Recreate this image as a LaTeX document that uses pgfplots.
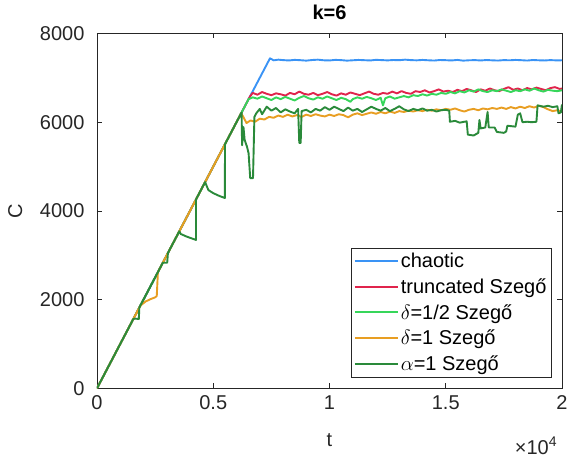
\documentclass[border=0pt]{standalone}
\usepackage{fontspec}
\setmainfont{Liberation Sans}
\usepackage{pgfplots}
\pgfplotsset{compat=1.18}

\definecolor{cchaos}{HTML}{3A93F5}
\definecolor{ctrunc}{HTML}{E0244C}
\definecolor{chalf}{HTML}{36D65A}
\definecolor{cone}{HTML}{E89E22}
\definecolor{calpha}{HTML}{2A8A3A}
\definecolor{axgray}{HTML}{262626}
\newcommand{\fs}{\fontsize{20bp}{24bp}\selectfont}

\begin{document}
\begin{tikzpicture}[font=\fs]
% page frame: the axis box sits at (0,0)
\path[use as bounding box] (-97bp,-70.7bp) rectangle (472bp,388.3bp);
\begin{axis}[
    scale only axis,
    width=465bp, height=354.8bp,
    xmin=0, xmax=20000,
    ymin=0, ymax=8000,
    scaled x ticks=false,
    scaled y ticks=false,
    xtick={0,5000,10000,15000,20000},
    xticklabels={0,0.5,1,1.5,2},
    ytick={0,2000,4000,6000,8000},
    yticklabels={0,2000,4000,6000,8000},
    tick align=inside,
    major tick length=5bp,
    axis line style={axgray, line width=0.6bp},
    every tick/.style={axgray, line width=0.6bp},
    tick label style={font=\fs, text=axgray},
    yticklabel style={xshift=-9bp},
    xticklabel style={yshift=-4bp},
    extra description/.code={
        \node[font=\fs, text=axgray, inner sep=0pt, anchor=center]
            at (axis description cs:0.944,-0.162) {×10\textsuperscript{4}};
    },
    every axis title shift=0pt,
    title={\textbf{k=6}},
    title style={at={(axis description cs:0.5,1.061)}, anchor=center, font=\fs},
    xlabel={t},
    ylabel={C},
    xlabel style={at={(axis description cs:0.5,-0.147)}, anchor=center, font=\fs, text=axgray},
    ylabel style={at={(axis description cs:-0.176,0.5)}, anchor=center, font=\fs, text=axgray},
    legend style={at={(0.978,0.031)}, anchor=south east, draw=axgray, line width=0.6bp,
        fill=white, font=\fs, row sep=4.5bp, inner xsep=3bp, inner ysep=2.5bp,
        nodes={inner xsep=2bp, inner ysep=2.5bp}},
    legend cell align=left,
    legend image code/.code={\draw[#1, line width=1.9bp] (0bp,0bp) -- (43bp,0bp);},
    every axis plot/.append style={line width=1.9bp, line join=round},
]
% chaotic
\addplot[cchaos] coordinates {
(0,0) (7440,7440) (7600,7395) (7800,7410) (8000,7400) (8250,7392) (8500,7405)
(8750,7398) (9000,7388) (9250,7402) (9500,7410) (9750,7396) (10000,7392)
(10250,7405) (10500,7400) (10750,7388) (11000,7396) (11250,7404) (11500,7398)
(11750,7392) (12000,7406) (12250,7400) (12500,7394) (12750,7402) (13000,7398)
(13250,7410) (13500,7400) (13750,7395) (14000,7404) (14250,7396) (14500,7390)
(14750,7402) (15000,7398) (15250,7392) (15500,7404) (15750,7388) (16000,7396)
(16250,7400) (16500,7392) (16750,7402) (17000,7395) (17250,7390) (17500,7400)
(17750,7396) (18000,7404) (18250,7398) (18500,7390) (18750,7402) (19000,7396)
(19250,7392) (19500,7400) (19750,7394) (20000,7396)
};
% truncated
\addplot[ctrunc] coordinates {
(0,0) (6580,6580) (6700,6660) (6900,6620) (7100,6680) (7300,6640) (7500,6610)
(7700,6650) (7900,6630) (8100,6600) (8300,6660) (8500,6630) (8700,6690)
(8900,6640) (9100,6620) (9300,6660) (9500,6610) (9700,6640) (9900,6680)
(10100,6630) (10300,6600) (10500,6650) (10700,6620) (10900,6670) (11100,6640)
(11300,6610) (11500,6650) (11700,6690) (11900,6640) (12100,6620) (12300,6660)
(12500,6640) (12700,6690) (12900,6650) (13100,6700) (13300,6660) (13500,6640)
(13700,6700) (13900,6680) (14100,6720) (14300,6670) (14500,6700) (14700,6740)
(14900,6690) (15100,6710) (15300,6680) (15500,6730) (15700,6700) (15900,6750)
(16100,6720) (16300,6680) (16500,6740) (16700,6710) (16900,6760) (17100,6720)
(17300,6700) (17500,6750) (17700,6790) (17900,6730) (18100,6760) (18300,6720)
(18500,6770) (18700,6740) (18900,6780) (19100,6750) (19300,6720) (19500,6770)
(19700,6790) (19900,6750) (20000,6760)
};
% delta = 1/2
\addplot[chalf] coordinates {
(0,0) (6520,6520) (6700,6560) (6900,6530) (7100,6580) (7300,6540) (7500,6500)
(7700,6560) (7900,6520) (8100,6570) (8300,6530) (8500,6490) (8700,6550)
(8900,6590) (9100,6540) (9300,6510) (9500,6560) (9700,6530) (9900,6580)
(10100,6540) (10300,6500) (10500,6550) (10700,6520) (10900,6460) (11000,6520)
(11200,6560) (11400,6530) (11600,6570) (11800,6540) (12000,6500) (12200,6550)
(12300,6380) (12400,6540) (12600,6580) (12800,6530) (13000,6560) (13200,6590)
(13400,6560) (13600,6610) (13800,6590) (14000,6630) (14200,6600) (14400,6640)
(14600,6620) (14800,6660) (15000,6640) (15200,6680) (15400,6650) (15600,6700)
(15800,6670) (16000,6720) (16200,6690) (16400,6740) (16600,6700) (16800,6680)
(17000,6720) (17200,6700) (17400,6740) (17600,6710) (17800,6680) (18000,6720)
(18200,6700) (18400,6740) (18600,6710) (18800,6760) (19000,6720) (19200,6690)
(19400,6730) (19600,6710) (19800,6700) (20000,6720)
};
% delta = 1
\addplot[cone] coordinates {
(0,0) (1850,1850) (1950,1900) (2100,1960) (2300,2010) (2500,2050) (2570,2080)
(2620,2620) (6200,6200) (6290,6124) (6430,5980) (6600,6040) (6800,6010)
(7000,6080) (7200,6060) (7400,6120) (7600,6100) (7800,6150) (8000,6120)
(8200,6170) (8400,6130) (8600,6160) (8800,6120) (9000,6170) (9200,6140)
(9400,6180) (9600,6150) (9800,6130) (10000,6170) (10200,6140) (10400,6180)
(10600,6160) (10800,6110) (11000,6170) (11200,6200) (11400,6160) (11600,6190)
(11800,6220) (12000,6190) (12200,6230) (12400,6200) (12600,6240) (12800,6210)
(13000,6250) (13200,6230) (13400,6260) (13600,6240) (13800,6270) (14000,6250)
(14200,6280) (14400,6260) (14600,6290) (14800,6270) (15000,6300) (15200,6280)
(15400,6310) (15600,6270) (15800,6240) (16000,6280) (16200,6300) (16400,6270)
(16600,6310) (16800,6290) (17000,6320) (17200,6300) (17400,6330) (17600,6300)
(17800,6340) (18000,6310) (18200,6350) (18400,6320) (18600,6360) (18800,6330)
(19000,6370) (19200,6340) (19400,6290) (19600,6250) (19800,6270) (20000,6240)
};
% alpha = 1
\addplot[calpha] coordinates {
(0,0) (1560,1560) (1600,1570) (1800,1565) (1820,1820) (2820,2820) (2840,2830)
(3020,2830) (3050,3050) (3540,3540) (3600,3480) (3860,3420) (4260,3345)
(4260,4260) (4650,4650) (4790,4470) (5000,4400) (5250,4340) (5500,4290)
(5505,5505) (6220,6220) (6240,5480) (6300,5890) (6350,5600) (6450,5450)
(6520,5300) (6590,4740) (6710,4740) (6770,6120) (6850,6200) (7000,6300)
(7100,6180) (7300,6350) (7500,6260) (7700,6320) (7900,6220) (8100,6290)
(8300,6240) (8500,6200) (8650,6300) (8700,5530) (8760,5530) (8800,6250)
(9000,6280) (9200,6220) (9400,6300) (9600,6260) (9800,6340) (10000,6280)
(10200,6350) (10400,6300) (10600,6250) (10800,6330) (11000,6260) (11200,6300)
(11400,6230) (11600,6290) (11800,6350) (12000,6300) (12200,6260) (12400,6320)
(12600,6250) (12800,6300) (13000,6360) (13200,6290) (13400,6250) (13600,6300)
(13800,6270) (14000,6310) (14200,6260) (14400,6280) (14600,6240) (14800,6270)
(15000,6280) (15150,6260) (15180,6010) (15400,6030) (15600,5990) (15900,6020)
(15950,5720) (16200,5700) (16400,5760) (16450,6050) (16500,5860) (16700,5880)
(16800,6230) (16850,5880) (17100,5880) (17200,5780) (17500,5760) (17600,5790)
(17650,5920) (18000,5900) (18100,6170) (18200,6200) (18300,6000) (18500,6010)
(18700,6000) (18900,6010) (18950,6380) (19200,6350) (19400,6370) (19600,6340)
(19800,6360) (19850,6200) (19950,6220) (20000,6400)
};
\legend{chaotic, truncated Szegő, $\delta$=1/2 Szegő, $\delta$=1 Szegő, $\alpha$=1 Szegő}
\end{axis}
\end{tikzpicture}
\end{document}
